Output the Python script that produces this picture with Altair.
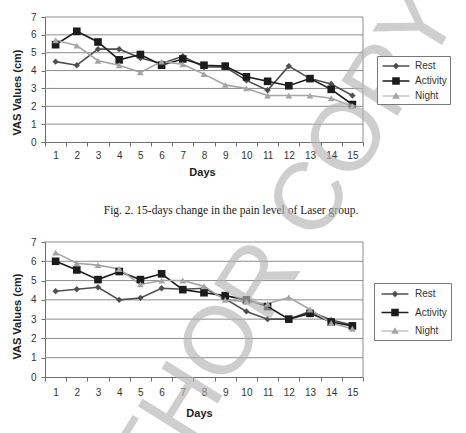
import altair as alt
import pandas as pd

# ---- data -------------------------------------------------------------
days = list(range(1, 16))
series_names = ["Rest", "Activity", "Night"]
series_colors = ["#4f4f4f", "#1c1c1c", "#a4a4a4"]
series_shapes = ["diamond", "square", "triangle-up"]
marker_sizes = [40, 58, 46]
vas_ticks = list(range(0, 8))

# Fig. 2 - Laser group
laser_rest = [4.5, 4.3, 5.2, 5.2, 4.7, 4.4, 4.8, 4.2, 4.2, 3.45, 2.9, 4.25, 3.55, 3.25, 2.6]
laser_activity = [5.45, 6.2, 5.6, 4.6, 4.9, 4.3, 4.65, 4.3, 4.25, 3.65, 3.4, 3.15, 3.55, 2.95, 2.1]
laser_night = [5.7, 5.4, 4.55, 4.3, 3.9, 4.5, 4.35, 3.8, 3.2, 3.0, 2.6, 2.6, 2.6, 2.45, 2.0]

# second group
second_rest = [4.45, 4.55, 4.65, 4.0, 4.1, 4.6, 4.55, 4.6, 4.05, 3.4, 3.0, 3.0, 3.4, 2.95, 2.7]
second_activity = [6.0, 5.55, 5.05, 5.47, 5.05, 5.35, 4.53, 4.37, 4.22, 4.0, 3.65, 3.0, 3.3, 2.85, 2.65]
second_night = [6.45, 5.9, 5.8, 5.6, 4.8, 5.0, 5.0, 4.7, 4.0, 3.9, 3.8, 4.13, 3.5, 2.8, 2.5]

caption_text = "Fig. 2. 15-days change in the pain level of Laser group."
watermark_text = "AUTHOR COPY"
y_title = "VAS Values (cm)"
x_title = "Days"

# ---- layout ------------------------------------------------------------
# The view is the upper plot area; the lower panel and all annotations sit in
# the padding below/right of it, placed through explicit scale ranges.
VIEW_W, VIEW_H = 318, 125
PAD = {"left": 45, "top": 17, "right": 103, "bottom": 291}
SANS = "Liberation Sans"

# legend glyphs: a short line with the series marker in its middle
legend_glyphs = [
    "M-2.2,-0.11L2.2,-0.11L2.2,0.11L-2.2,0.11Z M0,-0.55L0.55,0L0,0.55L-0.55,0Z",
    "M-2.2,-0.13L2.2,-0.13L2.2,0.13L-2.2,0.13Z M-0.62,-0.62L0.62,-0.62L0.62,0.62L-0.62,0.62Z",
    "M-2.2,-0.1L2.2,-0.1L2.2,0.1L-2.2,0.1Z M0,-0.62L0.62,0.45L-0.62,0.45Z",
]


def long_table(rest, activity, night):
    rows = []
    for name, values in zip(series_names, [rest, activity, night]):
        for day, v in zip(days, values):
            rows.append({"Day": day, "Series": name, "VAS": v})
    return pd.DataFrame(rows)


def panel_layers(df, top, bottom, opts):
    xs = alt.Scale(type="band", domain=days, range=[0, VIEW_W],
                   paddingInner=0, paddingOuter=0)
    ys = alt.Scale(domain=[0, 7], range=[bottom, top], nice=False, zero=False)
    cs = alt.Scale(domain=series_names, range=series_colors)

    x_axis = alt.Axis(
        orient="bottom", offset=bottom - VIEW_H, title=x_title,
        tickBand="extent", labelAngle=0, grid=False,
        domainColor="#6e6e6e", tickColor="#6e6e6e", tickSize=4,
        labelFont=SANS, labelFontSize=10, labelColor="#333333",
        labelPadding=opts["x_label_pad"],
        titleFont=SANS, titleFontSize=11, titleFontWeight="bold", titleColor="#222222",
        titleX=opts["x_title_x"], titleY=opts["x_title_y"],
        titleAlign="center", titleBaseline="middle",
    )
    y_axis = alt.Axis(
        orient="left", offset=0, title=y_title, values=vas_ticks,
        format="d", grid=False,
        domainColor="#6e6e6e", tickColor="#6e6e6e", tickSize=4,
        labelFont=SANS, labelFontSize=10, labelColor="#333333", labelPadding=5,
        titleFont=SANS, titleFontSize=11, titleFontWeight="bold", titleColor="#222222",
        titleX=opts["y_title_x"], titleY=opts["y_title_y"], titleAngle=270,
        titleAlign="center", titleBaseline="middle",
    )

    grid = alt.Chart(pd.DataFrame({"tick": vas_ticks[1:]})).mark_rule(
        color="#8c8c8c", strokeWidth=1
    ).encode(
        y=alt.Y("tick:Q", scale=ys, axis=None),
        x=alt.XDatum(days[0], type="ordinal", scale=xs, bandPosition=0, axis=None),
        x2=alt.X2Datum(days[-1], bandPosition=1),
    )

    frame = alt.Chart(pd.DataFrame({"tick": [vas_ticks[0]]})).mark_rule(
        color="#8c8c8c", strokeWidth=1
    ).encode(
        x=alt.XDatum(days[-1], type="ordinal", scale=xs, bandPosition=1, axis=None),
        y=alt.YDatum(vas_ticks[0], type="quantitative", scale=ys, axis=None),
        y2=alt.Y2Datum(vas_ticks[-1]),
    )

    base = alt.Chart(df)
    lines = base.mark_line(strokeWidth=1.6).encode(
        x=alt.X("Day:O", scale=xs, axis=x_axis, bandPosition=0.5),
        y=alt.Y("VAS:Q", scale=ys, axis=y_axis),
        color=alt.Color("Series:N", scale=cs, legend=None),
        detail="Series:N",
    )

    # one marker layer per series, each with its own fixed symbol
    markers = [
        base.transform_filter(alt.datum.Series == name)
        .mark_point(filled=True, opacity=1, size=size, shape=shape)
        .encode(
            x=alt.X("Day:O", scale=xs, axis=None, bandPosition=0.5),
            y=alt.Y("VAS:Q", scale=ys, axis=None),
            color=alt.Color("Series:N", scale=cs, legend=None),
        )
        for name, shape, size in zip(series_names, series_shapes, marker_sizes)
    ]

    legend = alt.Legend(
        orient="none", legendX=opts["legend_x"], legendY=opts["legend_y"],
        title=None, symbolSize=150,
        symbolOffset=opts["symbol_offset"], labelOffset=opts["label_offset"],
        padding=opts["legend_pad"], rowPadding=opts["row_pad"],
        strokeColor="#7a7a7a", fillColor="white",
        labelFont=SANS, labelFontSize=10, labelColor="#333333",
    )
    # legend keys only: the rows are filtered out, the scales keep the domain
    key = base.transform_filter("false").mark_point(
        filled=True, opacity=1, size=150
    ).encode(
        color=alt.Color("Series:N", scale=cs, legend=legend),
        shape=alt.Shape("Series:N", scale=alt.Scale(domain=series_names, range=legend_glyphs),
                        legend=legend),
    )
    return [grid, frame, lines, *markers, key]


upper = panel_layers(
    long_table(laser_rest, laser_activity, laser_night), 0, 125,
    dict(x_label_pad=4, x_title_x=157, x_title_y=30, y_title_x=-28, y_title_y=75,
         legend_x=332, legend_y=39, legend_pad=3, row_pad=3,
         symbol_offset=9, label_offset=12),
)
lower = panel_layers(
    long_table(second_rest, second_activity, second_night), 225, 360,
    dict(x_label_pad=6, x_title_x=154, x_title_y=36, y_title_x=-28, y_title_y=299,
         legend_x=329, legend_y=266, legend_pad=4, row_pad=6.5,
         symbol_offset=10, label_offset=13),
)

caption = alt.Chart(pd.DataFrame({"text": [caption_text]})).mark_text(
    font="Liberation Serif", fontSize=11.5, color="#222222",
    align="center", baseline="middle",
).encode(x=alt.value(186), y=alt.value(194), text="text:N")

watermark = alt.Chart(pd.DataFrame({"text": [watermark_text]})).mark_text(
    font=SANS, fontSize=96, angle=302,
    color="#b4b4b4", opacity=0.65, align="center", baseline="middle",
).encode(x=alt.value(205), y=alt.value(280), text="text:N")

chart = alt.layer(*upper, *lower, caption, watermark).resolve_scale(
    x="independent", y="independent", color="independent", shape="independent"
).properties(
    width=VIEW_W, height=VIEW_H, padding=PAD, background="white",
    autosize=alt.AutoSizeParams(type="none"),
).configure_view(strokeWidth=0)

chart.save("out.html", embed_options={"renderer": "svg", "actions": False})
